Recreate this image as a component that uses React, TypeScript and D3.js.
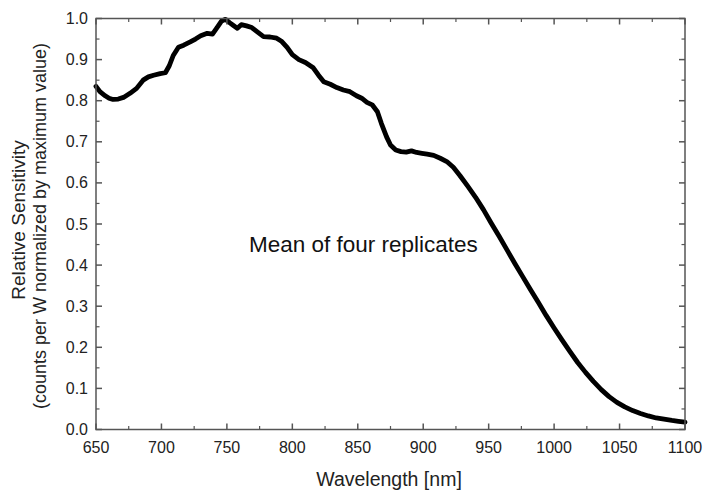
import * as d3 from "d3";

// wavelength [nm] and relative sensitivity
const wavelengths = [
  650, 653, 657, 660, 663, 667, 671, 676, 681, 686, 690, 694, 699, 703, 706,
  709, 713, 717, 722, 726, 730, 735, 739, 743, 746, 749, 752, 755, 758, 761,
  765, 769, 773, 778, 783, 788, 792, 796, 800, 805, 810, 816, 820, 824, 829,
  834, 839, 844, 849, 853, 857, 861, 865, 868, 872, 875, 879, 883, 887, 891,
  895, 899, 903, 908, 913, 918, 923, 928, 934, 940, 946, 952, 958, 964, 970,
  976, 982, 988, 994, 1000, 1006, 1012, 1018, 1024, 1030, 1036, 1042, 1048,
  1054, 1060, 1066, 1072, 1078, 1084, 1090, 1095, 1100,
];
const sensitivity = [
  0.835, 0.822, 0.812, 0.806, 0.803, 0.804, 0.808, 0.818, 0.83, 0.85, 0.858,
  0.862, 0.866, 0.868, 0.885, 0.91, 0.93, 0.935, 0.943, 0.95, 0.958, 0.964,
  0.962, 0.98, 0.994, 0.998, 0.99, 0.983, 0.976, 0.985, 0.982, 0.978, 0.968,
  0.956, 0.955, 0.952, 0.944, 0.93, 0.912, 0.9, 0.893, 0.88, 0.862, 0.846,
  0.84, 0.832, 0.826, 0.822, 0.812, 0.806, 0.796, 0.79, 0.773, 0.745, 0.712,
  0.692, 0.68, 0.676, 0.675, 0.678, 0.674, 0.672, 0.67, 0.667, 0.66, 0.652,
  0.638, 0.618, 0.592, 0.565, 0.535, 0.502, 0.47, 0.437, 0.404, 0.372, 0.34,
  0.309, 0.277, 0.247, 0.218, 0.19, 0.163, 0.139, 0.117, 0.097, 0.08, 0.066,
  0.055, 0.046, 0.039, 0.033, 0.028, 0.025, 0.022, 0.02, 0.018,
];

const xMajor = [650, 700, 750, 800, 850, 900, 950, 1000, 1050, 1100];
const yMajor = [0, 0.1, 0.2, 0.3, 0.4, 0.5, 0.6, 0.7, 0.8, 0.9, 1.0];

const W = 703;
const H = 493;
const left = 96;
const right = 685;
const top = 18.5;
const bottom = 429.5;
const axisColor = "#555";
const font = "'Liberation Sans', Arial, sans-serif";

export default function App() {
  const x = d3.scaleLinear().domain([650, 1100]).range([left, right]);
  const y = d3.scaleLinear().domain([0, 1]).range([bottom, top]);

  const points = wavelengths.map((w, i) => [w, sensitivity[i]] as [number, number]);
  const line = d3
    .line<[number, number]>()
    .x((d) => x(d[0]))
    .y((d) => y(d[1]))
    .curve(d3.curveLinear);

  const xMinor = xMajor.slice(0, -1).map((v) => v + 25);
  const yMinor = yMajor.slice(0, -1).map((v) => v + 0.05);

  return (
    <svg
      width={W}
      height={H}
      style={{ position: "absolute", left: 0, top: 0, background: "#fff" }}
    >
      <path
        d={line(points) ?? ""}
        fill="none"
        stroke="#000"
        strokeWidth={4.8}
        strokeLinejoin="round"
        strokeLinecap="round"
      />

      <rect
        x={left}
        y={top}
        width={right - left}
        height={bottom - top}
        fill="none"
        stroke={axisColor}
        strokeWidth={1.5}
      />

      {/* ticks pointing inward on all four sides */}
      {xMajor.map((v) => (
        <g key={`xt${v}`} stroke={axisColor} strokeWidth={1.5}>
          <line x1={x(v)} x2={x(v)} y1={bottom} y2={bottom - 6} />
          <line x1={x(v)} x2={x(v)} y1={top} y2={top + 6} />
        </g>
      ))}
      {xMinor.map((v) => (
        <g key={`xm${v}`} stroke={axisColor} strokeWidth={1.2}>
          <line x1={x(v)} x2={x(v)} y1={bottom} y2={bottom - 3.5} />
          <line x1={x(v)} x2={x(v)} y1={top} y2={top + 3.5} />
        </g>
      ))}
      {yMajor.map((v) => (
        <g key={`yt${v}`} stroke={axisColor} strokeWidth={1.5}>
          <line x1={left} x2={left + 6} y1={y(v)} y2={y(v)} />
          <line x1={right} x2={right - 6} y1={y(v)} y2={y(v)} />
        </g>
      ))}
      {yMinor.map((v) => (
        <g key={`ym${v}`} stroke={axisColor} strokeWidth={1.2}>
          <line x1={left} x2={left + 3.5} y1={y(v)} y2={y(v)} />
          <line x1={right} x2={right - 3.5} y1={y(v)} y2={y(v)} />
        </g>
      ))}

      <g fontFamily={font} fontSize={16} fill="#222">
        {xMajor.map((v) => (
          <text key={`xl${v}`} x={x(v)} y={bottom + 23.5} textAnchor="middle">
            {v}
          </text>
        ))}
        {yMajor.map((v) => (
          <text key={`yl${v}`} x={left - 8} y={y(v) + 5.5} textAnchor="end">
            {v.toFixed(1)}
          </text>
        ))}
      </g>

      <text
        x={389}
        y={486}
        textAnchor="middle"
        fontFamily={font}
        fontSize={19.5}
        fill="#222"
      >
        Wavelength [nm]
      </text>

      <g
        transform={`translate(25, 220) rotate(-90)`}
        fontFamily={font}
        fill="#222"
        textAnchor="middle"
      >
        <text x={0} y={0} fontSize={19}>
          Relative Sensitivity
        </text>
        <text x={-6} y={21} fontSize={18}>
          (counts per W normalized by maximum value)
        </text>
      </g>

      <text x={249} y={252} fontFamily={font} fontSize={22.5} fill="#111">
        Mean of four replicates
      </text>
    </svg>
  );
}
